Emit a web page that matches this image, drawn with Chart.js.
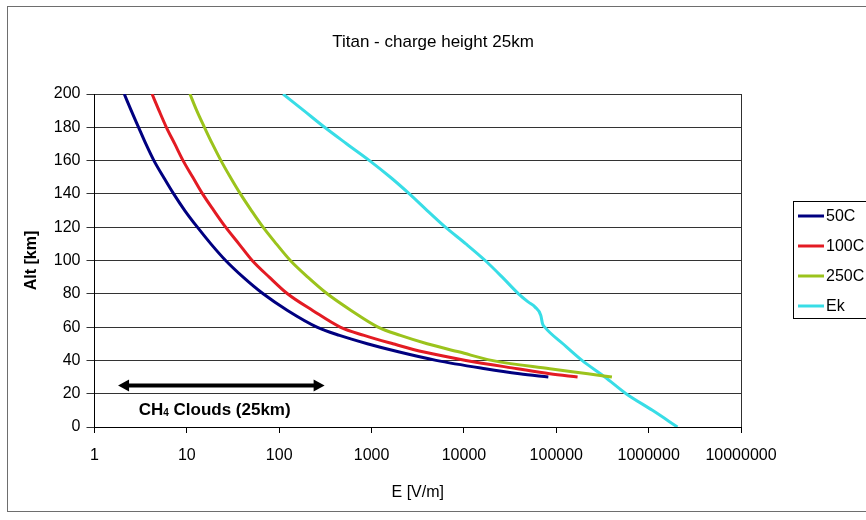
<!DOCTYPE html>
<html>
<head>
<meta charset="utf-8">
<script src="https://cdn.jsdelivr.net/npm/chart.js@4.4.1/dist/chart.umd.min.js"></script>
<style>
  html, body { margin: 0; padding: 0; background: #fff; }
  #c { display: block; }
</style>
</head>
<body>
<canvas id="c" width="866" height="520"></canvas>
<script>
// ---- data ----
const chartTitle = 'Titan - charge height 25km';
const xAxisTitle = 'E [V/m]';
const yAxisTitle = 'Alt [km]';
const xTickValues = [1, 10, 100, 1000, 10000, 100000, 1000000, 10000000];
const yTickStep = 20;

const seriesNames = ['50C', '100C', '250C', 'Ek'];
const seriesColors = ['#000080', '#E31B23', '#9BC31C', '#38DDE6'];

const alt50 = [200, 190, 180, 170, 160, 150, 140, 130, 120, 110, 100, 90, 80, 70, 60, 55, 50, 45, 40, 35, 32, 30];
const e50   = [2.1, 2.5, 3.0, 3.6, 4.4, 5.6, 7.2, 9.5, 13, 18.2, 26.3, 40.7, 67, 123, 256, 450, 900, 2000, 5000, 17000, 40000, 82000];

const alt100 = [200, 190, 180, 170, 160, 150, 140, 130, 120, 110, 100, 90, 80, 70, 60, 55, 50, 45, 40, 35, 32, 30];
const e100   = [4.2, 5.0, 6.0, 7.4, 9.1, 11.6, 14.8, 19.6, 26.3, 36.6, 51, 78, 123, 230, 457, 830, 1700, 3700, 10500, 38000, 85000, 170000];

const alt250 = [200, 190, 180, 170, 160, 150, 140, 130, 120, 110, 100, 90, 80, 70, 60, 55, 50, 45, 40, 35, 32, 30];
const e250   = [10.8, 12.8, 15.5, 18.9, 23.4, 29.6, 38, 50, 66.8, 93, 132, 204, 331, 600, 1175, 2050, 4000, 9000, 20000, 85000, 220000, 400000];

const altEk = [200, 190, 180, 170, 160, 150, 140, 130, 120, 110, 100, 90, 80, 75, 72, 67, 62, 60, 50, 40, 30, 20, 10, 0];
const eEk   = [110, 185, 310, 540, 950, 1600, 2570, 4000, 6300, 10500, 17000, 26000, 39000, 50000, 59000, 68000, 71000, 75000, 118000, 190000, 336000, 570000, 1100000, 2050000];

// annotation (CH4 clouds band)
const cloudAlt = 25;
const cloudArrowE = [1.8, 310];
const cloudLabelE = 20;
const cloudLabelAlt = 11;

// ---- build datasets ----
function pts(xs, ys) { return xs.map((v, i) => ({ x: v, y: ys[i] })); }
const seriesData = [pts(e50, alt50), pts(e100, alt100), pts(e250, alt250), pts(eEk, altEk)];

const datasets = seriesNames.map((n, i) => ({
  label: n,
  data: seriesData[i],
  borderColor: seriesColors[i],
  backgroundColor: seriesColors[i],
  borderWidth: 3,
  pointRadius: 0,
  showLine: true,
  cubicInterpolationMode: 'monotone',
  fill: false
}));

const FONT = "'Liberation Sans', Arial, sans-serif";

const decorPlugin = {
  id: 'decor',
  beforeDraw(chart) {
    const ctx = chart.ctx;
    ctx.save();
    ctx.fillStyle = '#fff';
    ctx.fillRect(0, 0, chart.width, chart.height);
    ctx.restore();
  },
  afterDraw(chart) {
    const ctx = chart.ctx;
    const a = chart.chartArea;
    const xs = chart.scales.x, ys = chart.scales.y;
    ctx.save();

    // chart title (centred on the whole picture)
    ctx.fillStyle = '#000';
    ctx.font = '17px ' + FONT;
    ctx.textAlign = 'center';
    ctx.textBaseline = 'middle';
    ctx.fillText(chartTitle, 433, 42);

    // plot area right border
    ctx.strokeStyle = '#303030';
    ctx.lineWidth = 1;
    ctx.beginPath();
    ctx.moveTo(Math.round(a.right) + 0.5, a.top);
    ctx.lineTo(Math.round(a.right) + 0.5, a.bottom);
    ctx.stroke();

    // CH4 arrow
    const y = ys.getPixelForValue(cloudAlt);
    const x1 = xs.getPixelForValue(cloudArrowE[0]);
    const x2 = xs.getPixelForValue(cloudArrowE[1]);
    ctx.strokeStyle = '#000';
    ctx.fillStyle = '#000';
    ctx.lineWidth = 4;
    ctx.beginPath();
    ctx.moveTo(x1 + 8, y);
    ctx.lineTo(x2 - 8, y);
    ctx.stroke();
    const ah = 11, aw = 6;
    ctx.beginPath();
    ctx.moveTo(x1, y); ctx.lineTo(x1 + ah, y - aw); ctx.lineTo(x1 + ah, y + aw); ctx.closePath(); ctx.fill();
    ctx.beginPath();
    ctx.moveTo(x2, y); ctx.lineTo(x2 - ah, y - aw); ctx.lineTo(x2 - ah, y + aw); ctx.closePath(); ctx.fill();

    // CH4 label
    const lx = xs.getPixelForValue(cloudLabelE);
    const ly = ys.getPixelForValue(cloudLabelAlt);
    const big = 'bold 17px ' + FONT, small = 'bold 10px ' + FONT;
    ctx.font = big;
    const w1 = ctx.measureText('CH').width;
    const w3 = ctx.measureText(' Clouds (25km)').width;
    ctx.font = small;
    const w2 = ctx.measureText('4').width;
    let sx = lx - (w1 + w2 + w3) / 2;
    ctx.textBaseline = 'alphabetic';
    ctx.textAlign = 'left';
    const base = ly + 6;
    ctx.font = big; ctx.fillText('CH', sx, base); sx += w1;
    ctx.font = small; ctx.fillText('4', sx, base + 1); sx += w2;
    ctx.font = big; ctx.fillText(' Clouds (25km)', sx, base);

    // legend
    ctx.lineWidth = 1;
    ctx.strokeStyle = '#000';
    ctx.strokeRect(793.5, 201.5, 110, 117);
    ctx.font = '16px ' + FONT;
    ctx.textBaseline = 'middle';
    chart.data.datasets.forEach((ds, i) => {
      const iy = 216 + i * 30;
      ctx.strokeStyle = ds.borderColor;
      ctx.lineWidth = 3;
      ctx.beginPath();
      ctx.moveTo(798, iy);
      ctx.lineTo(824, iy);
      ctx.stroke();
      ctx.fillStyle = '#000';
      ctx.fillText(ds.label, 826, iy + 1);
    });

    // outer frame
    ctx.strokeStyle = '#6e6e6e';
    ctx.lineWidth = 1;
    ctx.strokeRect(7.5, 6.5, 880, 505);
    ctx.restore();
  }
};

new Chart(document.getElementById('c'), {
  type: 'scatter',
  data: { datasets },
  plugins: [decorPlugin],
  options: {
    responsive: false,
    animation: false,
    devicePixelRatio: 1,
    layout: { padding: { left: 0, right: 125, top: 94, bottom: 0 } },
    plugins: {
      legend: { display: false },
      tooltip: { enabled: false },
      title: { display: false }
    },
    scales: {
      x: {
        type: 'logarithmic',
        position: 'bottom',
        min: xTickValues[0],
        max: xTickValues[xTickValues.length - 1],
        afterBuildTicks: s => { s.ticks = xTickValues.map(v => ({ value: v })); },
        afterFit: s => { s.height = 93; },
        ticks: {
          callback: v => String(v),
          color: '#000',
          font: { family: FONT, size: 16 },
          padding: 13,
          maxRotation: 0,
          autoSkip: false
        },
        grid: { drawOnChartArea: false, drawTicks: true, tickLength: 6, color: '#000' },
        border: { color: '#000', width: 1 },
        title: {
          display: true,
          text: xAxisTitle,
          color: '#000',
          font: { family: FONT, size: 16, weight: 'normal' },
          padding: { top: 0, bottom: 18 }
        }
      },
      y: {
        type: 'linear',
        min: 0,
        max: 200,
        afterFit: s => { s.width = 94.5; },
        ticks: {
          stepSize: yTickStep,
          color: '#000',
          font: { family: FONT, size: 16 },
          padding: 6
        },
        grid: { color: '#333', lineWidth: 1, tickLength: 8, drawTicks: true },
        border: { color: '#000', width: 1 },
        title: {
          display: true,
          text: yAxisTitle,
          color: '#000',
          font: { family: FONT, size: 16, weight: 'bold' },
          padding: { top: 22, bottom: 0 }
        }
      }
    }
  }
});
</script>
</body>
</html>
